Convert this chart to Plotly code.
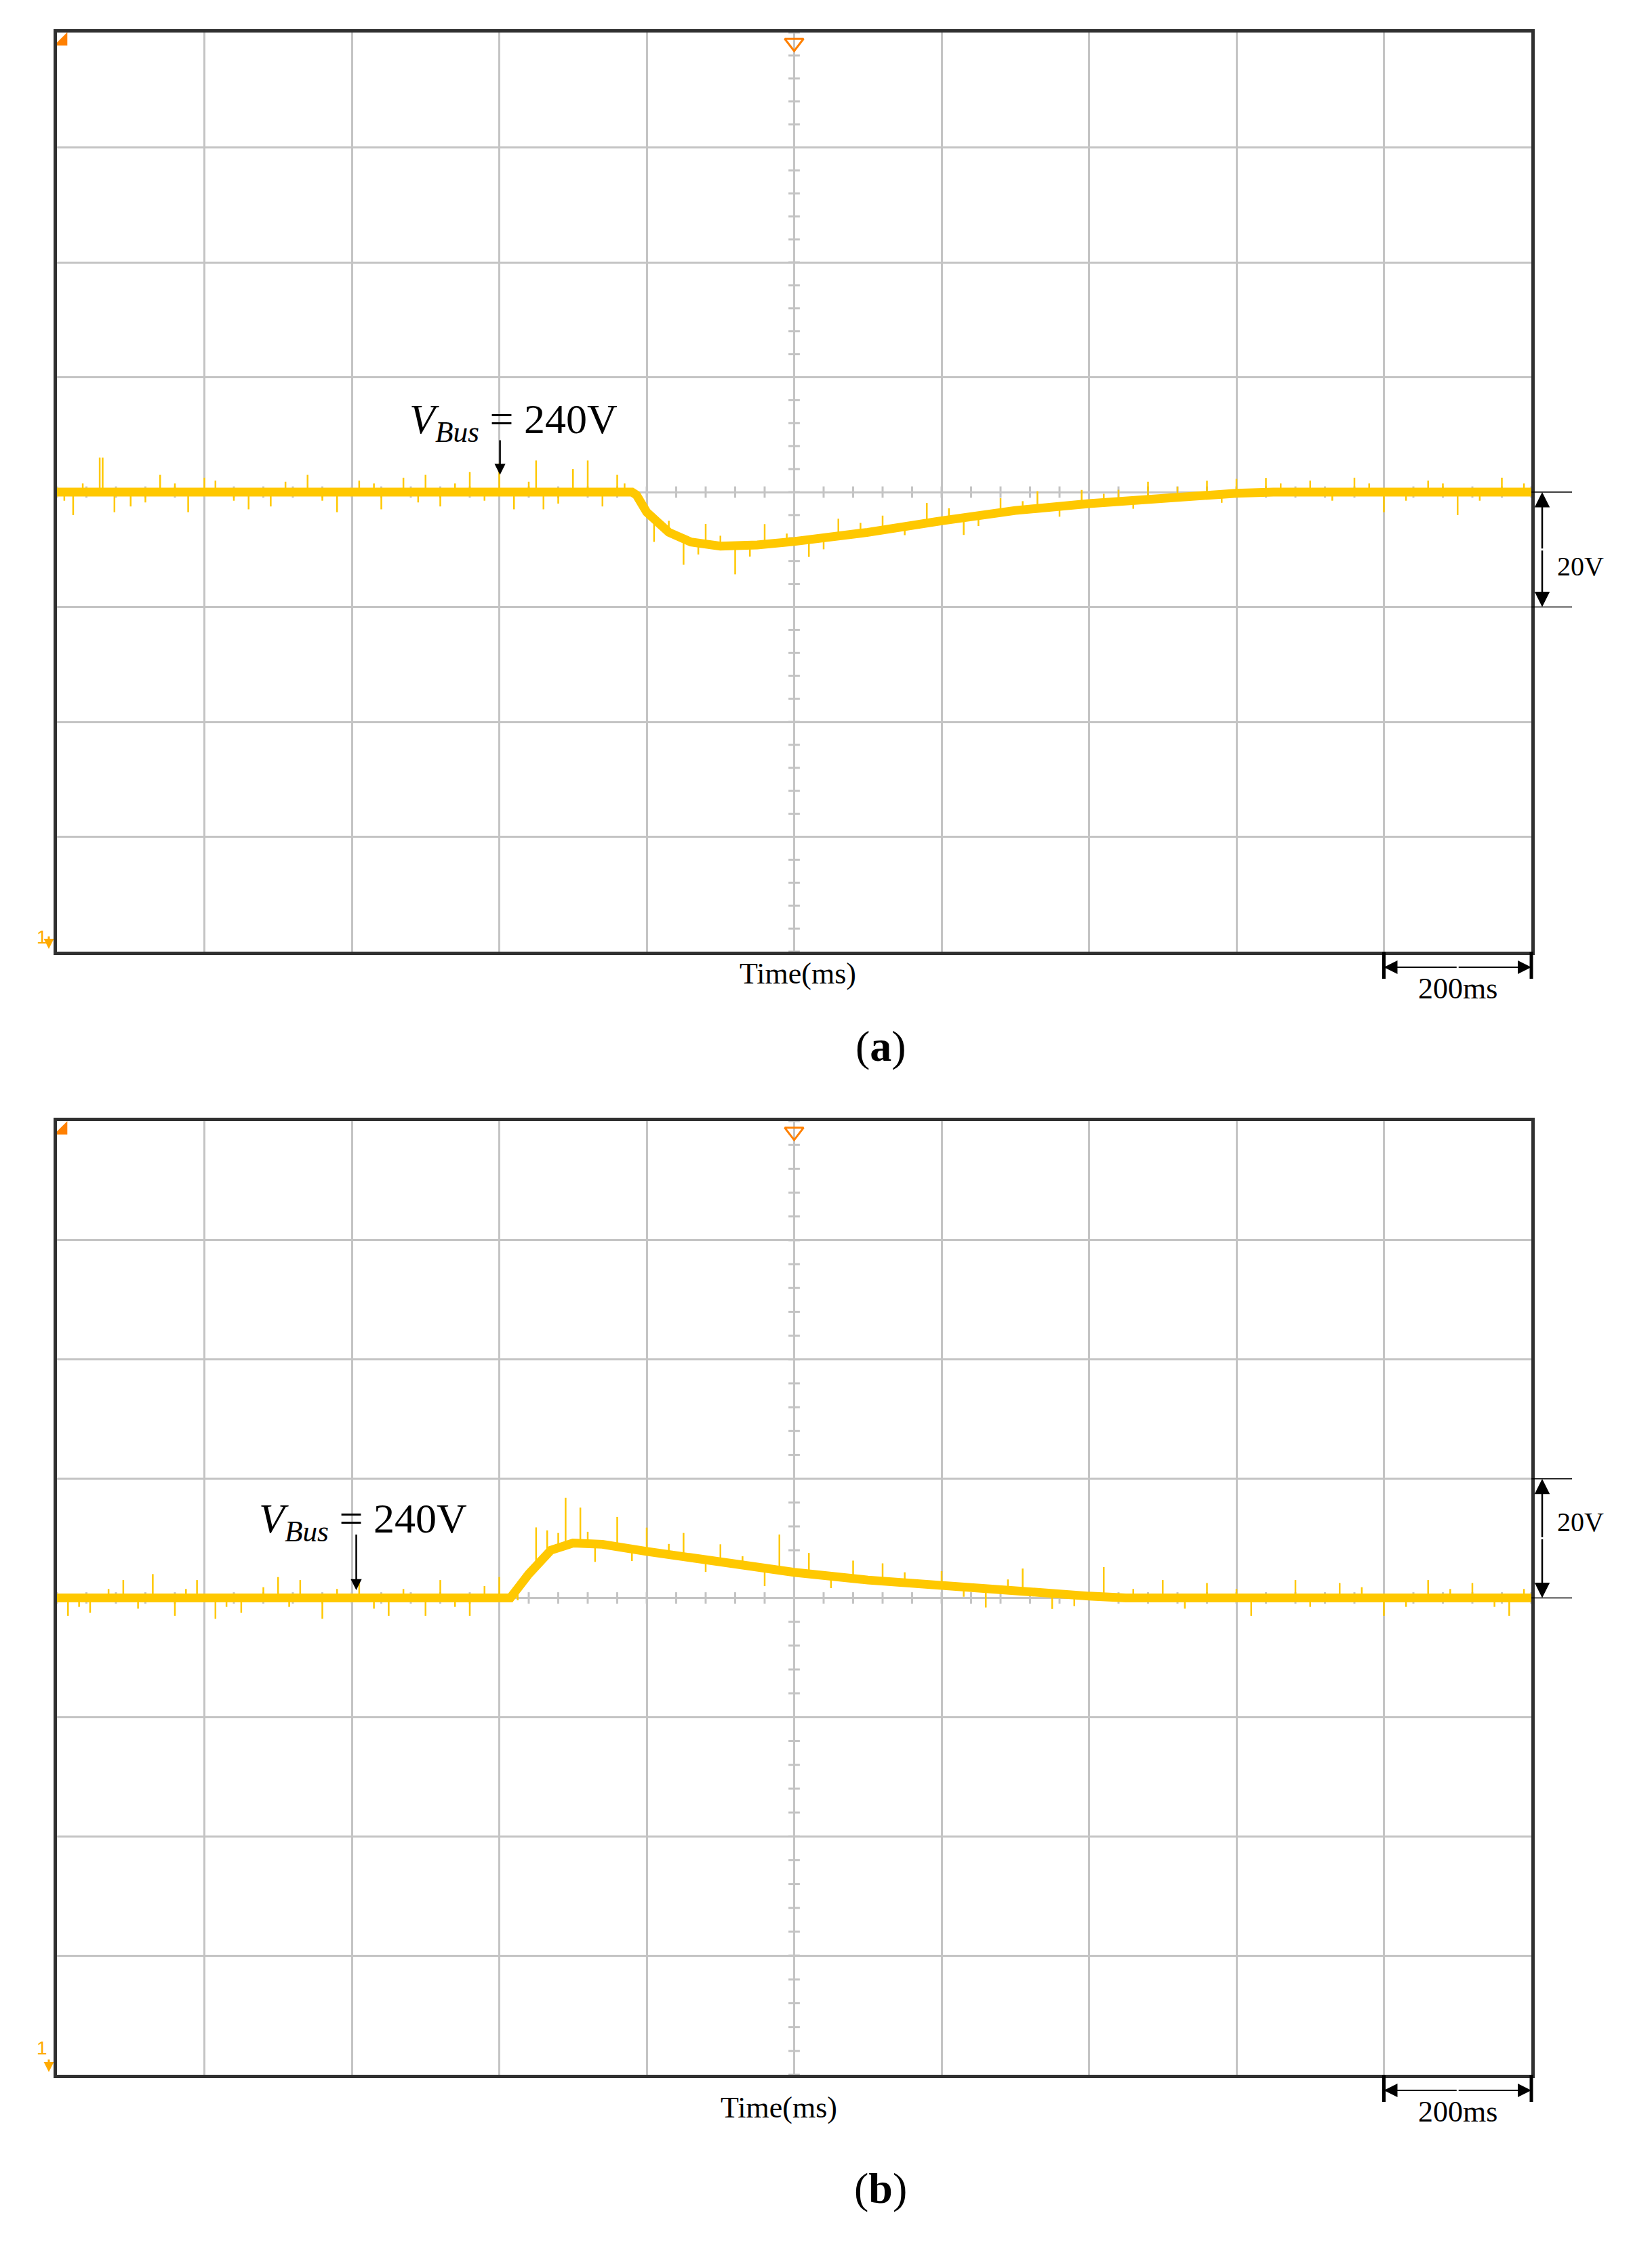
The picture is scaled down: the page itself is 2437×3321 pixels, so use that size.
import numpy as np
import plotly.graph_objects as go

# time in ms, voltage in V (200 ms/div, 20 V/div)
a_env_t = [0, 780, 786, 800, 830, 860, 900, 950, 1000, 1100, 1200, 1300, 1400, 1500, 1600, 1650, 2000]
a_env_v = [240, 240, 239.5, 236.5, 233, 231.3, 230.6, 230.8, 231.4, 233, 235, 236.8, 238, 239, 239.8, 240, 240]
a_spk_t = [22, 58, 62, 78, 100, 140, 178, 200, 215, 260, 290, 340, 380, 410, 440, 470, 500, 520, 560, 600, 620,
           650, 660, 700, 720, 740, 760, 810, 850, 880, 920, 960, 1020, 1060, 1120, 1180, 1230, 1280, 1330, 1390,
           1440, 1480, 1560, 1600, 1640, 1700, 1760, 1800, 1860, 1900, 1960,
           10, 35, 120, 160, 240, 310, 360, 430, 490, 540, 580, 640, 680, 770, 830, 870, 900, 940, 990, 1040,
           1090, 1150, 1210, 1250, 1310, 1360, 1420, 1460, 1520, 1580, 1660, 1730, 1780, 1830, 1880, 1930, 1990]
a_spk_v = [-4, 6, 6, -3.5, -2.5, 3, -3.5, 2.5, 2, -3, -2.5, 3, -3.5, 2, -3, 2.5, 3, -2.5, 3.5, 5, -3,
           5.5, -3, 4, 5.5, -2.5, 3, -4, -4.5, 3.5, -5, 3.5, -3, 3, 2.5, 3.5, -3, 2.5, 3, 2.5,
           2, 3, 2.5, 2.5, 2.5, 2, 2.5, -3.5, 2, -4, 2.5,
           -1.5, 1.5, -1.8, 1.5, -1.5, 1.8, -1.5, 1.5, -1.8, 1.5, -1.5, 1.8, -2, 1.5, 2, -2, 1.8, -2, 1.5, -2,
           1.8, -1.5, 2, -1.8, 1.5, -1.8, 1.5, -1.5, 1.8, -1.5, 1.5, -1.5, 1.5, -1.5, 1.5, -1.5, 1.5]

b_env_t = [0, 615, 640, 670, 700, 740, 800, 900, 1000, 1100, 1200, 1300, 1400, 1450, 2000]
b_env_v = [240, 240, 244, 248, 249.2, 249, 247.8, 246, 244.3, 243, 242, 241, 240.3, 240, 240]
b_spk_t = [15, 45, 90, 130, 160, 190, 215, 250, 300, 330, 360, 410, 450, 500, 520, 560, 600, 650, 665, 690,
           710, 730, 760, 800, 850, 900, 960, 980, 1020, 1080, 1120, 1200, 1260, 1310, 1350, 1420, 1500,
           1560, 1620, 1680, 1740, 1800, 1860, 1920, 1970,
           30, 70, 110, 175, 230, 280, 315, 380, 430, 470, 540, 580, 625, 680, 720, 780, 830, 880, 930, 1050,
           1150, 1230, 1290, 1380, 1460, 1530, 1600, 1700, 1770, 1830, 1890, 1950, 1990]
b_spk_v = [-3, -2.5, 3, 4, -3, 3, -3.5, -2.5, 3.5, 3, -3.5, 2.5, -3, -3, 3, -3, 3.5, 6.5, 4, 8,
           6, -3, 5, 4, 4, 3, -3, 6, 3.5, 3, 3, 2.5, -3, 4, -2.5, 5, 3, 2.5, -3, 3, 2.5, -3, 3, 2.5, -3,
           -1.5, 1.5, -1.8, 1.5, -1.5, 1.8, -1.5, 1.5, -1.8, 1.5, -1.5, 2, -2, 2.5, 2, -2, 1.8, -2, 1.5, -2,
           1.8, -1.5, 2, -1.8, 1.5, -1.8, 1.5, -1.5, 1.8, -1.5, 1.5, -1.5, 1.5]

YEL = "#ffc800"
GRID = "#c4c4c4"
FONT = "Liberation Serif"
W, H = 2437, 3321
L, R = 76, 2251
boxes = [(40, 1396), (1646, 3053)]  # top, bottom in pixels

def px(x):
    return x / W

def py(y):
    return 1 - y / H

fig = go.Figure()
panels = [(a_env_t, a_env_v, a_spk_t, a_spk_v), (b_env_t, b_env_v, b_spk_t, b_spk_v)]
for i, (et, ev, st, sv) in enumerate(panels):
    xa, ya = ("x", "y") if i == 0 else ("x2", "y2")
    ct = np.arange(0, 2001, 40)
    cv = np.arange(160, 321, 4)
    fig.add_trace(go.Scatter(x=ct, y=[240] * len(ct), mode="markers", xaxis=xa, yaxis=ya,
                             marker=dict(symbol="line-ns", size=12, line=dict(color=GRID, width=3)),
                             hoverinfo="skip"))
    fig.add_trace(go.Scatter(x=[1000] * len(cv), y=cv, mode="markers", xaxis=xa, yaxis=ya,
                             marker=dict(symbol="line-ew", size=12, line=dict(color=GRID, width=3)),
                             hoverinfo="skip"))
    sx, sy = [], []
    for t, d in zip(st, sv):
        base = float(np.interp(t, et, ev))
        sx += [t, t, None]
        sy += [base, base + d, None]
    fig.add_trace(go.Scatter(x=sx, y=sy, mode="lines", xaxis=xa, yaxis=ya,
                             line=dict(color=YEL, width=2.5), hoverinfo="skip"))
    fig.add_trace(go.Scatter(x=et, y=ev, mode="lines", xaxis=xa, yaxis=ya,
                             line=dict(color=YEL, width=13), hoverinfo="skip"))
    fig.add_trace(go.Scatter(x=[1000], y=[318.2], mode="markers", xaxis=xa, yaxis=ya, cliponaxis=False,
                             marker=dict(symbol="triangle-down-open", size=24, color="#ff8000",
                                         line=dict(width=3)), hoverinfo="skip"))
    fig.add_trace(go.Scatter(x=[8], y=[318.5], mode="markers", xaxis=xa, yaxis=ya, cliponaxis=False,
                             marker=dict(symbol="triangle-se", size=22, color="#ff8000"), hoverinfo="skip"))

ax = dict(range=[0, 2000], dtick=200, showgrid=True, gridcolor=GRID, gridwidth=2.5, showticklabels=False,
          zeroline=False, showline=True, linecolor="#303030", linewidth=5, mirror=True, ticks="",
          domain=[px(L), px(R)])
ay = dict(range=[160, 320], dtick=20, showgrid=True, gridcolor=GRID, gridwidth=2.5, showticklabels=False,
          zeroline=False, showline=True, linecolor="#303030", linewidth=5, mirror=True, ticks="")
fig.update_layout(
    width=W, height=H, margin=dict(l=0, r=0, t=0, b=0), showlegend=False,
    plot_bgcolor="white", paper_bgcolor="white",
    xaxis=dict(ax, anchor="y"), yaxis=dict(ay, domain=[py(boxes[0][1]), py(boxes[0][0])], anchor="x"),
    xaxis2=dict(ax, anchor="y2"), yaxis2=dict(ay, domain=[py(boxes[1][1]), py(boxes[1][0])], anchor="x2"),
)

ann, shapes = [], []
labels = ["(<b>a</b>)", "(<b>b</b>)"]
label_y = [1536, 3258]
time_x = [1169, 1141]
time_dy = [32, 48]
vbus = [(601, 243, 249.2, 619, 252.2), (406, 241.3, 250.8, 415, 252.8)]
for i in range(2):
    xr, yr = ("x", "y") if i == 0 else ("x2", "y2")
    top, bot = boxes[i]
    div = (bot - top) / 8
    base = top + 4 * div
    t, v, vt, lx, ly = vbus[i]
    ann.append(dict(x=t, y=v, ax=t, ay=vt, xref=xr, yref=yr, axref=xr, ayref=yr, text="",
                    showarrow=True, arrowhead=2, arrowsize=1.3, arrowwidth=2.5, arrowcolor="black"))
    ann.append(dict(x=lx, y=ly, xref=xr, yref=yr, showarrow=False,
                    text="<i>V</i><sub><i>Bus</i></sub> = 240V", font=dict(family=FONT, size=62, color="black")))
    # 20V scale
    y_hi, y_lo = (base, base + div) if i == 0 else (base - div, base)
    ax_x = R + 16
    ann.append(dict(x=px(ax_x), y=py(y_lo), xref="paper", yref="paper", ax=0, ay=-(y_lo - y_hi) / 2,
                    text="", showarrow=True, arrowhead=2, arrowsize=1.8, arrowwidth=2.5, arrowcolor="black"))
    ann.append(dict(x=px(ax_x), y=py(y_hi), xref="paper", yref="paper", ax=0, ay=(y_lo - y_hi) / 2,
                    text="", showarrow=True, arrowhead=2, arrowsize=1.8, arrowwidth=2.5, arrowcolor="black"))
    ann.append(dict(x=px(ax_x + 20), y=py((y_hi + y_lo) / 2), xref="paper", yref="paper", xanchor="left",
                    showarrow=False, text="20V", font=dict(family=FONT, size=40, color="black")))
    for yv in (y_hi, y_lo):
        shapes.append(dict(type="line", xref="paper", yref="paper", x0=px(R), x1=px(R + 60),
                           y0=py(yv), y1=py(yv), line=dict(color="black", width=1.5)))
    # 200ms scale
    x_l = R - (R - L) / 10
    yb = bot + 23
    ann.append(dict(x=px(R), y=py(yb), xref="paper", yref="paper", ax=-(R - x_l) / 2, ay=0, text="",
                    showarrow=True, arrowhead=2, arrowsize=2, arrowwidth=2, arrowcolor="black"))
    ann.append(dict(x=px(x_l), y=py(yb), xref="paper", yref="paper", ax=(R - x_l) / 2, ay=0, text="",
                    showarrow=True, arrowhead=2, arrowsize=2, arrowwidth=2, arrowcolor="black"))
    for xv in (x_l, R):
        shapes.append(dict(type="line", xref="paper", yref="paper", x0=px(xv), x1=px(xv),
                           y0=py(bot), y1=py(bot + 40), line=dict(color="black", width=5)))
    ann.append(dict(x=px((x_l + R) / 2), y=py(bot + 28), xref="paper", yref="paper", xanchor="center",
                    yanchor="top", showarrow=False, text="200ms", font=dict(family=FONT, size=44, color="black")))
    ann.append(dict(x=px(time_x[i]), y=py(bot + time_dy[i]), xref="paper", yref="paper", yanchor="middle",
                    xanchor="center", showarrow=False, text="Time(ms)",
                    font=dict(family=FONT, size=44, color="black")))
    ann.append(dict(x=px(1291), y=py(label_y[i]), xref="paper", yref="paper", xanchor="center",
                    showarrow=False, text=labels[i], font=dict(family=FONT, size=64, color="black")))
    # channel 1 ground marker
    ann.append(dict(x=px(44), y=py(bot - 22), xref="paper", yref="paper", showarrow=False, text="1",
                    font=dict(family="Liberation Sans", size=28, color="#ffaa00")))
    ann.append(dict(x=px(64), y=py(bot - 4), xref="paper", yref="paper", ax=0, ay=-20, text="",
                    showarrow=True, arrowhead=2, arrowsize=1, arrowwidth=3, arrowcolor="#ffaa00"))
fig.update_layout(annotations=ann, shapes=shapes)
fig.write_html("out.html")
